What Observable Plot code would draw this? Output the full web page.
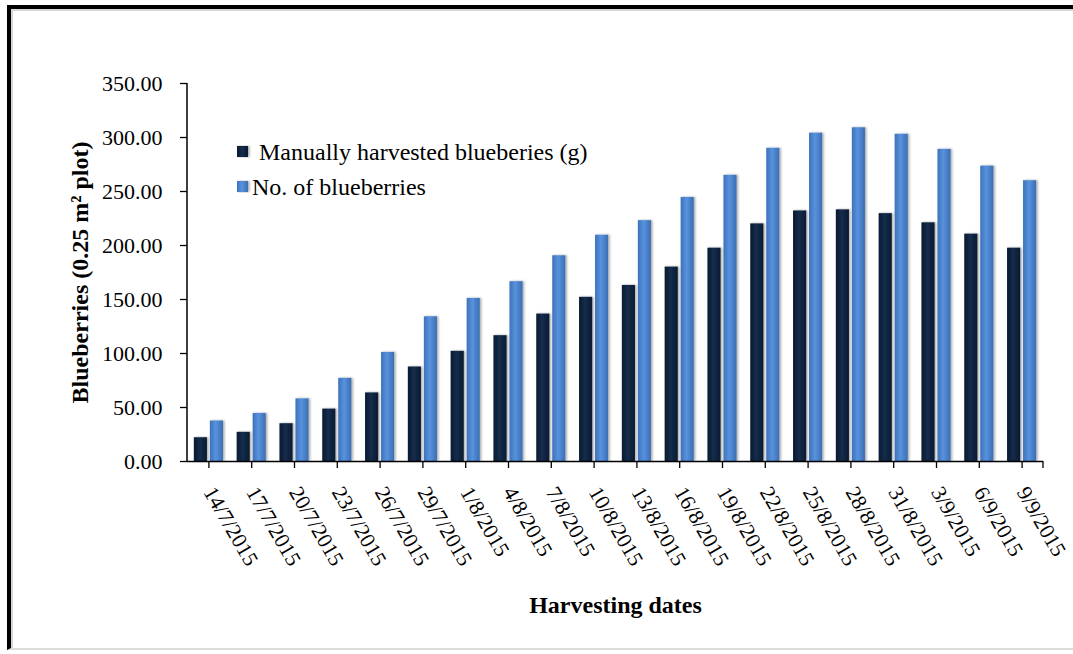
<!DOCTYPE html>
<html>
<head>
<meta charset="utf-8">
<script src="https://cdn.jsdelivr.net/npm/d3@7"></script>
<script src="https://cdn.jsdelivr.net/npm/@observablehq/plot@0.6"></script>
<style>
  html, body { margin: 0; padding: 0; background: #fff; }
  #wrap { position: relative; width: 1073px; height: 654px; overflow: hidden; }
  #frame { position: absolute; left: 7px; top: 5px; width: 1080px; height: 645px;
           border-top: 4px solid #000; border-left: 4px solid #000; border-bottom: 2px solid #dcdcdc;
           box-shadow: inset 2px 2px 0 #d6d6d6; box-sizing: border-box; }
  #chart { position: absolute; left: 0; top: 0; }
</style>
</head>
<body>
<svg width="0" height="0" style="position:absolute">
  <defs>
    <linearGradient id="gDark" x1="0" x2="1" y1="0" y2="0">
      <stop offset="0" stop-color="#0a1a2f"/>
      <stop offset="0.45" stop-color="#142c4c"/>
      <stop offset="1" stop-color="#0b1b31"/>
    </linearGradient>
    <linearGradient id="gLight" x1="0" x2="1" y1="0" y2="0">
      <stop offset="0" stop-color="#3d72ba"/>
      <stop offset="0.45" stop-color="#5892dd"/>
      <stop offset="1" stop-color="#3b6eb3"/>
    </linearGradient>
    <filter id="shadow" x="-30%" y="-5%" width="160%" height="110%">
      <feDropShadow dx="1.5" dy="0" stdDeviation="1" flood-color="#000" flood-opacity="0.35"/>
    </filter>
  </defs>
</svg>
<div id="wrap">
  <div id="frame"></div>
  <div id="chart"></div>
</div>
<script>
// ---- data ----
const dates = ["14/7/2015","17/7/2015","20/7/2015","23/7/2015","26/7/2015","29/7/2015","1/8/2015","4/8/2015","7/8/2015","10/8/2015",
               "13/8/2015","16/8/2015","19/8/2015","22/8/2015","25/8/2015","28/8/2015","31/8/2015","3/9/2015","6/9/2015","9/9/2015"];
const harvested = [22, 27, 35, 48.5, 63.5, 87.5, 102, 116.5, 136.5, 152, 163, 180, 197.5, 220, 232, 233, 229.5, 221, 210.5, 197.5];
const counts = [37.5, 44.5, 58, 77, 101, 134, 151, 166.5, 190.5, 209.5, 223, 244.5, 265, 290, 304, 309, 303, 289, 273.5, 260];
const seriesNames = ["Manually harvested blueberies (g)", "No. of blueberries"];
const seriesFills = ["url(#gDark)", "url(#gLight)"];
const yTicks = [0, 50, 100, 150, 200, 250, 300, 350];
const yTitle = "Blueberries (0.25 m² plot)";
const xTitle = "Harvesting dates";
const FONT = "'Liberation Serif', 'Times New Roman', serif";

const rowsA = dates.map((d, i) => ({date: d, value: harvested[i], series: seriesNames[0]}));
const rowsB = dates.map((d, i) => ({date: d, value: counts[i], series: seriesNames[1]}));

const plot = Plot.plot({
  width: 1073,
  height: 654,
  marginLeft: 187,
  marginRight: 30,
  marginTop: 83,
  marginBottom: 193,
  style: {fontFamily: FONT, fontSize: "22px", color: "#000", background: "transparent", overflow: "visible"},
  x: {domain: dates, paddingInner: 0.32, paddingOuter: 0.16, round: false},
  y: {domain: [0, 350]},
  marks: [
    Plot.barY(rowsA, {x: "date", y: "value", fill: seriesFills[0], insetRight: 16}),
    Plot.barY(rowsB, {x: "date", y: "value", fill: seriesFills[1], insetLeft: 16}),
    Plot.ruleY([0], {stroke: "#000", strokeWidth: 1.5}),
    Plot.axisY({ticks: yTicks, tickFormat: d3.format(".2f"), tickSize: 7, tickPadding: 18, label: null, stroke: "#000", strokeWidth: 1.3}),
    Plot.axisX({tickSize: 7, tickRotate: 60, tickPadding: 20, fontSize: 21.5, label: null, stroke: "#000", strokeWidth: 1.3}),
    Plot.text([yTitle], {frameAnchor: "left", rotate: -90, dx: -107, textAnchor: "middle", lineAnchor: "middle", fontWeight: "bold", fontSize: 24}),
    Plot.text([xTitle], {frameAnchor: "bottom", dy: 144, textAnchor: "middle", lineAnchor: "middle", fontWeight: "bold", fontSize: 24})
  ]
});
document.getElementById("chart").appendChild(plot);

// axis lines through the plot's scales
const svg = d3.select(plot);
const ys = plot.scale("y"), xs = plot.scale("x");
const xl = xs.range[0], xr = xs.range[1];
svg.append("line").attr("x1", xl).attr("x2", xl).attr("y1", ys.range[0]).attr("y2", ys.range[1]).attr("stroke", "#000").attr("stroke-width", 1.5);
svg.append("line").attr("x1", xr).attr("x2", xr).attr("y1", ys.range[0]).attr("y2", ys.range[0] + 7).attr("stroke", "#000").attr("stroke-width", 1.3);
svg.selectAll("g[aria-label='bar'] rect").attr("filter", "url(#shadow)");

// legend (inside the SVG so it uses the same serif font)
const legendItems = [
  {name: seriesNames[0], fill: seriesFills[0], sx: 237, sy: 146, tx: 259, ty: 152},
  {name: seriesNames[1], fill: seriesFills[1], sx: 237, sy: 181, tx: 252, ty: 187}
];
const lg = svg.append("g").attr("font-family", FONT).attr("font-size", 24).attr("fill", "#000").attr("text-anchor", "start");
for (const it of legendItems) {
  lg.append("rect").attr("x", it.sx).attr("y", it.sy).attr("width", 11).attr("height", 11).attr("fill", it.fill).attr("filter", "url(#shadow)");
  lg.append("text").attr("x", it.tx).attr("y", it.ty).attr("dy", "0.35em").attr("text-anchor", "start").text(it.name);
}
</script>
</body>
</html>
